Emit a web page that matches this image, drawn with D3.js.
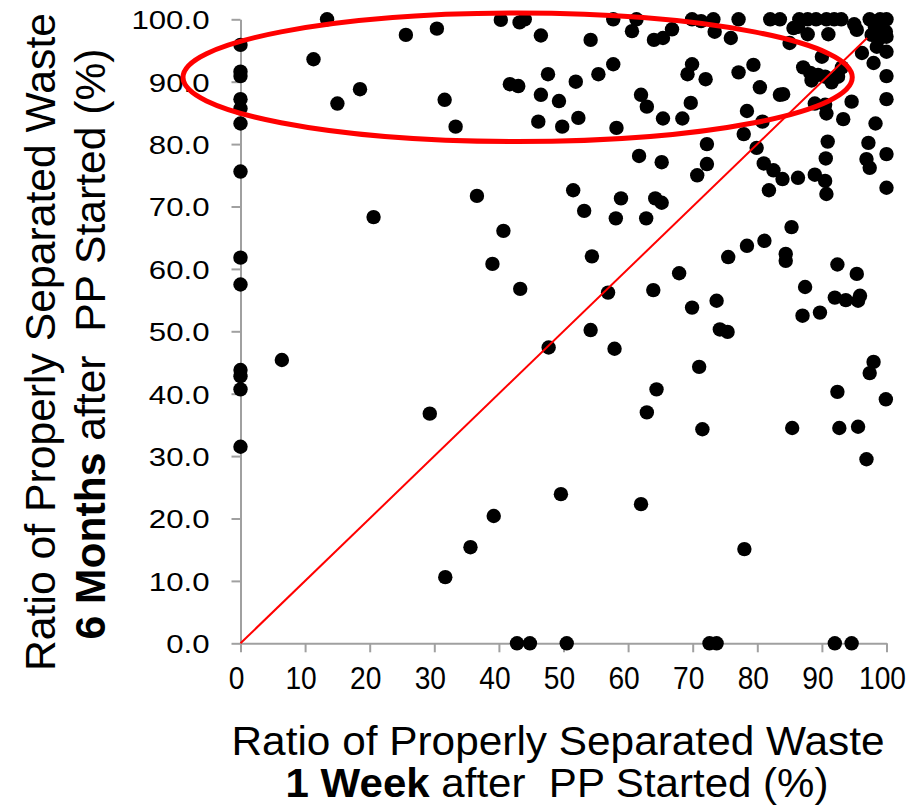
<!DOCTYPE html>
<meta charset="utf-8">
<style>
    body { margin: 0; background: #fff; }
    text { font-family: "Liberation Sans", Arial, sans-serif; fill: #000; }
    .axis line, .axis path { stroke: #a0a0a0; stroke-width: 2px; }
</style>
<svg id="chart" width="923" height="807"></svg>
<script src="https://cdn.jsdelivr.net/npm/d3@7"></script>
<script>
    // ratio 1 week after PP started (x) and 6 months after (y)
    var weekOne = [
        0, 0, 0, 0, 0, 0, 0, 0, 0, 0, 0, 0, 0,
        6.4, 11.3, 13.4, 15.0, 18.5, 20.6, 25.6, 29.3, 30.4, 31.6, 31.7, 33.3, 35.6, 36.6,
        39.0, 39.2, 40.3, 40.7, 41.7, 42.8, 43.0, 43.2, 43.3, 44.0, 44.8, 46.1, 46.5, 46.5,
        47.6, 47.7, 49.3, 49.6, 49.8, 50.5, 51.5, 51.9, 52.3, 53.2, 54.2, 54.2, 54.4, 55.4,
        56.9, 57.7, 57.7, 57.9, 58.1, 58.2, 58.9, 60.6, 61.3, 61.7, 62.0, 62.0, 62.8, 62.9,
        62.9, 63.9, 64.0, 64.2, 64.4, 65.2, 65.2, 65.4, 65.4, 66.8, 67.9, 68.4, 69.2, 69.7,
        69.9, 69.9, 69.9, 70.7, 71.0, 71.3, 71.5, 72.0, 72.2, 72.2, 72.6, 73.2, 73.4, 73.7,
        73.7, 74.2, 75.4, 75.5, 75.9, 77.1, 77.1, 77.9, 78.0, 78.4, 78.4, 79.4, 79.9, 80.4,
        80.8, 81.0, 81.1, 81.8, 82.0, 82.5, 83.5, 83.5, 84.0, 83.9, 84.4, 84.4, 85.0, 85.3,
        85.4, 85.6, 86.3, 86.5, 86.3, 87.8, 87.0, 87.1, 87.4, 87.8, 88.2, 88.4, 88.9, 88.9,
        89.1, 89.4, 89.7, 90.0, 90.5, 90.5, 90.5, 90.6, 90.7, 90.7, 90.7, 90.9, 91.0, 91.5,
        91.9, 92.0, 92.0, 92.4, 92.4, 92.5, 93.0, 93.1, 92.7, 93.3, 93.7, 94.6, 94.6, 95.0,
        95.4, 95.4, 95.6, 95.6, 95.9, 96.2, 96.9, 96.9, 97.2, 97.4, 97.4, 97.4, 97.7, 98.0,
        98.0, 98.2, 98.3, 98.5, 99.0, 99.0, 99.9, 100, 100, 100, 100, 100, 100, 100, 99.9
    ];
    var sixMonths = [
        95.9, 91.6, 90.9, 87.2, 85.7, 83.3, 75.6, 61.8, 57.5, 43.8, 42.8, 40.7, 31.5,
        45.4, 93.6, 100, 86.5, 88.8, 68.3, 97.5, 36.8, 98.5, 87.1, 10.6, 82.8, 15.4, 71.7,
        60.8, 20.4, 99.9, 66.1, 89.6, 0, 89.3, 99.5, 56.8, 100, 0, 83.6, 97.4, 87.9,
        91.2, 47.4, 86.9, 23.9, 82.8, 0, 72.6, 90.0, 84.2, 69.3, 96.7, 50.2, 62.0, 91.2,
        56.2, 92.8, 100, 47.2, 68.1, 82.6, 71.3, 98.1, 100, 78.1, 87.9, 22.3, 68.1, 86.0,
        37.0, 56.6, 96.7, 71.3, 40.7, 77.1, 70.6, 97.0, 84.1, 98.4, 59.3, 84.1, 91.2, 86.6,
        92.8, 53.8, 100, 75.0, 44.3, 99.7, 34.3, 90.4, 80.0, 76.8, 0, 100, 98.0, 0,
        54.9, 50.3, 49.9, 61.9, 97.0, 100, 91.5, 81.6, 15.1, 85.3, 63.7, 92.7, 79.4, 89.1,
        83.6, 76.9, 64.5, 72.6, 100, 75.8, 100, 87.9, 88.0, 74.4, 62.4, 61.3, 96.2, 66.7,
        34.5, 98.6, 74.6, 100, 98.8, 97.6, 52.5, 92.3, 57.1, 100, 91.4, 90.2, 86.5, 75.1,
        100, 91.1, 53.0, 94.0, 90.8, 86.3, 74.1, 77.7, 84.9, 72.0, 100, 80.4, 97.6, 89.9,
        100, 0, 55.4, 60.7, 40.3, 90.8, 100, 92.3, 34.5, 84.0, 55.0, 86.8, 0, 99.2,
        98.3, 59.2, 34.7, 54.9, 55.7, 94.6, 29.5, 77.6, 80.2, 76.2, 43.3, 100, 97.5, 93.0,
        45.1, 98.8, 83.3, 95.6, 97.0, 100, 98.0, 100, 97.2, 94.8, 90.9, 87.2, 78.4, 73.0, 39.1
    ];
    var xTicks = [0, 10, 20, 30, 40, 50, 60, 70, 80, 90, 100];
    var yTicks = [0, 10, 20, 30, 40, 50, 60, 70, 80, 90, 100];
    var titleTop = "Ratio of Properly Separated Waste";
    var xTitleBold = "1 Week", xTitleRest = " after  PP Started (%)";
    var yTitleBold = "6 Months", yTitleRest = " after  PP Started (%)";
    var diagonal = [[0, 0], [97, 97]];          // red reference line
    var highlight = { cx: 42.9, cy: 90.7, rx: 51.8, ry: 10.3 }; // red ellipse, in data units

    var svg = d3.select("#chart"),
        margin = { top: 19.3, right: 36.5, bottom: 163.7, left: 240.5 },
        width = +svg.attr("width") - margin.left - margin.right,
        height = +svg.attr("height") - margin.top - margin.bottom,
        g = svg.append("g").attr("transform", "translate(" + margin.left + "," + margin.top + ")");

    var x = d3.scaleLinear().domain([0, 100]).range([0, width]),
        y = d3.scaleLinear().domain([0, 100]).range([height, 0]);

    // stretch / squeeze text to a ratio of its natural width
    function squeeze(sel, k) {
        sel.each(function () {
            var w = this.getComputedTextLength();
            this.setAttribute("textLength", w * k);
            this.setAttribute("lengthAdjust", "spacingAndGlyphs");
        });
    }

    var xAxis = g.append("g")
        .attr("class", "axis")
        .attr("transform", "translate(0," + height + ")")
        .call(d3.axisBottom(x).tickValues(xTicks).tickSize(9).tickSizeOuter(0).tickPadding(14));
    xAxis.selectAll("text")
        .attr("x", -4.5)
        .style("font-size", "32px");
    squeeze(xAxis.selectAll("text"), 0.88);

    var yAxis = g.append("g")
        .attr("class", "axis")
        .call(d3.axisLeft(y).tickValues(yTicks).tickSize(9).tickSizeOuter(0).tickPadding(22)
            .tickFormat(d3.format(".1f")));
    yAxis.selectAll("text")
        .attr("dy", "0.36em")
        .style("font-size", "26px");
    squeeze(yAxis.selectAll("text"), 1.2);
    g.selectAll(".axis .domain").attr("stroke", "#a0a0a0");

    // dots
    g.selectAll(".dot")
        .data(weekOne.map(function (d, i) { return { wk: d, mo: sixMonths[i] }; }))
        .enter().append("circle")
        .attr("class", "dot")
        .attr("cx", function (d) { return x(d.wk); })
        .attr("cy", function (d) { return y(d.mo); })
        .attr("r", 7.2)
        .attr("fill", "#000");

    g.append("path")
        .attr("d", d3.line().x(function (d) { return x(d[0]); }).y(function (d) { return y(d[1]); })(diagonal))
        .attr("stroke", "#ff0000")
        .attr("stroke-width", 2)
        .attr("fill", "none");

    g.append("ellipse")
        .attr("cx", x(highlight.cx))
        .attr("cy", y(highlight.cy))
        .attr("rx", x(highlight.rx) - x(0))
        .attr("ry", y(0) - y(highlight.ry))
        .attr("fill", "none")
        .attr("stroke", "#ff0000")
        .attr("stroke-width", 5);

    // x title
    var xt1 = svg.append("text")
        .attr("x", 558).attr("y", 755)
        .attr("text-anchor", "middle")
        .style("font-size", "40px")
        .text(titleTop);
    xt1.attr("textLength", 653).attr("lengthAdjust", "spacingAndGlyphs");

    var xt2 = svg.append("text")
        .attr("x", 557).attr("y", 797)
        .attr("text-anchor", "middle")
        .style("font-size", "40px")
        .style("white-space", "pre");
    xt2.append("tspan").style("font-weight", "bold").text(xTitleBold);
    xt2.append("tspan").text(xTitleRest);
    xt2.attr("textLength", 543).attr("lengthAdjust", "spacingAndGlyphs");

    // y title
    var yt1 = svg.append("text")
        .attr("transform", "translate(55,342) rotate(-90)")
        .attr("text-anchor", "middle")
        .style("font-size", "43px")
        .text(titleTop);
    yt1.attr("textLength", 658).attr("lengthAdjust", "spacingAndGlyphs");

    var yt2 = svg.append("text")
        .attr("transform", "translate(105,344) rotate(-90)")
        .attr("text-anchor", "middle")
        .style("font-size", "43px")
        .style("white-space", "pre");
    yt2.append("tspan").style("font-weight", "bold").text(yTitleBold);
    yt2.append("tspan").text(yTitleRest);
    yt2.attr("textLength", 591).attr("lengthAdjust", "spacingAndGlyphs");
</script>
